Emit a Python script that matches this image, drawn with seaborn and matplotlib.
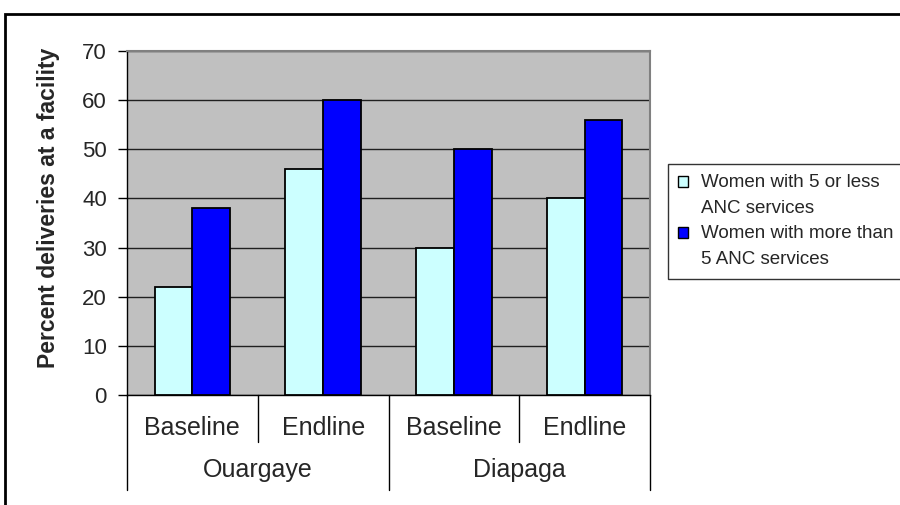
import matplotlib
matplotlib.use("Agg")
import matplotlib.pyplot as plt
import seaborn as sns
import pandas as pd
from matplotlib.patches import Rectangle
from matplotlib.lines import Line2D

sites = ["Ouargaye", "Diapaga"]
periods = ["Baseline", "Endline"]
series = ["Women with 5 or less\nANC services", "Women with more than\n5 ANC services"]
low_anc = [22, 46, 30, 40]
high_anc = [38, 60, 50, 56]
yticks = [0, 10, 20, 30, 40, 50, 60, 70]
ylabel = "Percent deliveries at a facility"

cats = [f"{s} {p}" for s in sites for p in periods]
rows = []
for c, a, b in zip(cats, low_anc, high_anc):
    rows.append({"cat": c, "series": series[0], "value": a})
    rows.append({"cat": c, "series": series[1], "value": b})
df = pd.DataFrame(rows)

sns.set_style("white")
plt.rcParams["font.family"] = ["Liberation Sans", "DejaVu Sans"]

fig = plt.figure(figsize=(9, 5.05), dpi=100)
W, H = 900, 505
ax = fig.add_axes([127 / W, 1 - 395 / H, 523 / W, 344 / H])

sns.barplot(data=df, x="cat", y="value", hue="series", order=cats, hue_order=series,
            palette=["#CCFFFF", "#0000FF"], width=0.577, edgecolor="black",
            linewidth=1.3, saturation=1, ax=ax, zorder=3, legend=True)

ax.set_facecolor("#C0C0C0")
ax.set_xlim(-0.5, 3.5)
ax.set_ylim(0, 70)
ax.set_yticks(yticks)
ax.set_yticklabels([str(v) for v in yticks], fontsize=16)
ax.yaxis.grid(True, color="#202020", linewidth=1.0, zorder=0)
ax.set_axisbelow(True)
ax.tick_params(axis="y", left=True, length=6.5, width=1, color="black", pad=8)
ax.tick_params(axis="x", bottom=False, labelbottom=False)
ax.set_xlabel("")
ax.set_ylabel(ylabel, fontsize=16.5, fontweight="bold")
ax.yaxis.set_label_coords(-0.128, 0.545)
for s in ["top", "right"]:
    ax.spines[s].set_color("#808080")
    ax.spines[s].set_linewidth(1.5)
ax.spines["left"].set_color("black")
ax.spines["bottom"].set_color("black")
ax.spines["left"].set_linewidth(1)
ax.spines["bottom"].set_linewidth(1)

# two-level category labels below the axis
trans = ax.get_xaxis_transform()
for i, c in enumerate(cats):
    ax.text(i, -0.116, periods[i % 2], transform=trans, ha="center", va="baseline", fontsize=18)
for j, s in enumerate(sites):
    ax.text(2 * j + 0.5, -0.238, s, transform=trans, ha="center", va="baseline", fontsize=18)
for k in range(5):
    x = k - 0.5
    y_end = -0.276 if k % 2 == 0 else -0.137
    ax.add_line(Line2D([x, x], [0, y_end], transform=trans, color="black",
                       linewidth=1, clip_on=False))

# legend
leg = ax.legend(loc="upper left", bbox_to_anchor=(668 / W, 1 - 164 / H),
                bbox_transform=fig.transFigure, borderaxespad=0, frameon=True, fontsize=13.5,
                handlelength=0.52, handleheight=0.52, handletextpad=0.7,
                borderpad=0.55, labelspacing=0.42, fancybox=False, title=None)
leg.get_frame().set_edgecolor("black")
leg.get_frame().set_linewidth(1)
for t in leg.get_texts():
    t.set_linespacing(1.7)
for p in leg.get_patches():
    p.set_y(p.get_y() + 10)
    p.set_linewidth(1)

# outer chart frame
fig.patches.append(Rectangle((5 / W, -0.05), 1.1, 1 - 13.5 / H + 0.05,
                             transform=fig.transFigure, fill=False,
                             edgecolor="black", linewidth=2, clip_on=False))

fig.savefig("out.png", dpi=100)
